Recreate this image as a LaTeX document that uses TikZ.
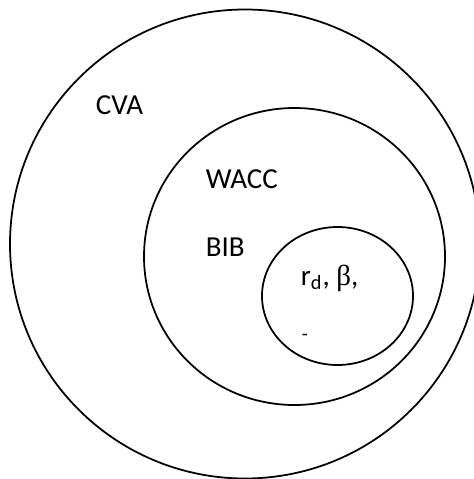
\documentclass[tikz,border=0pt]{standalone}
\usepackage{fontspec}
\setmainfont{Carlito}
\newfontfamily\greekfont{Liberation Serif}
\usetikzlibrary{positioning}
\tikzset{lbl/.style={anchor=base west,inner sep=0pt,font=\fontsize{16.5}{19}\selectfont}}

\begin{document}
\begin{tikzpicture}[line width=1pt]
            \useasboundingbox (0,0) rectangle (9.46,-9.58);

            \draw (4.90,-4.88) ellipse (4.70 and 4.69);
            \draw (5.89,-5.13) ellipse (3.01 and 2.97);
            \draw (6.75,-5.92) ellipse (1.51 and 1.38);

 \node[lbl] (cva) at (1.90,-2.28) {CVA};
 \node[lbl] (wacc) at (4.10,-3.76) {WACC};
 \node[lbl] (bib) at (4.10,-5.12) {BIB};
 \node[lbl] (rd) at (6.00,-5.70) {r\textsubscript{d}, {\greekfont β},};
 \node[lbl,font=\fontsize{11}{12}\selectfont] (dash) at (6.02,-6.80) {-};
        \end{tikzpicture}
\end{document}
